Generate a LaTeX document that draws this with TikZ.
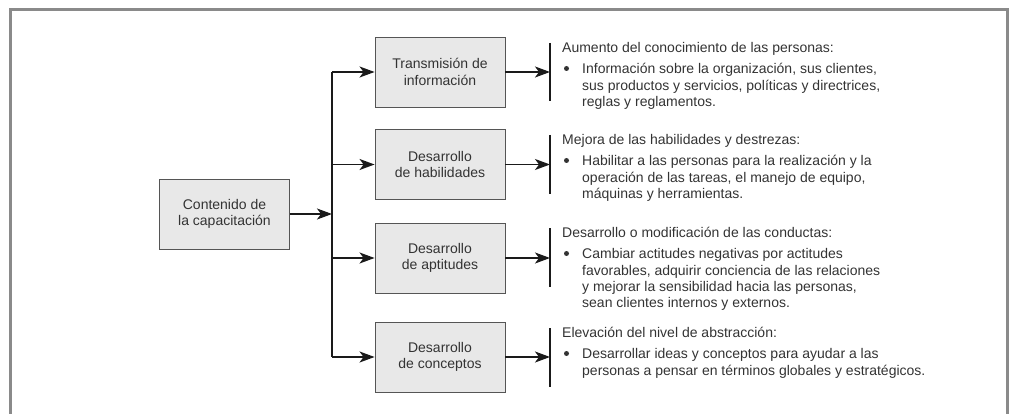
\documentclass[tikz,border=0pt]{standalone}
\usepackage{fontspec}
\setmainfont{Liberation Sans}
\usetikzlibrary{arrows.meta}
\definecolor{txt}{HTML}{333333}
\definecolor{ink}{HTML}{1A1A1A}
\definecolor{boxfill}{HTML}{E8E8E8}
\definecolor{boxline}{HTML}{555555}
\definecolor{framegray}{HTML}{8A8A8A}
\begin{document}
\begin{tikzpicture}[x=1pt,y=-1pt,
  box/.style={draw=boxline, fill=boxfill, line width=0.9pt, minimum width=130pt, minimum height=70pt, inner sep=0pt, align=center, text=txt, font=\fontsize{14}{16.3}\selectfont},
  conn/.style={draw=ink, line width=1.5pt, -{Stealth[length=15pt,width=11pt,inset=4pt]}},
  trunkline/.style={draw=ink, line width=1.6pt},
  brk/.style={draw=ink, line width=2pt},
  txtblock/.style={anchor=north west, inner sep=0pt, align=left, text=txt, font=\fontsize{14}{16.3}\selectfont},
  dot/.style={circle, fill=txt, inner sep=0pt, minimum size=5pt},
  framestyle/.style={draw=framegray, line width=3pt}
]
\useasboundingbox (0,0) rectangle (1009,414);
\draw[framestyle] (10.5,416) -- (10.5,10) -- (1007.5,10) -- (1007.5,416);

% boxes
\node[box] (c)  at (224.5,214) {Contenido de\\la capacitación};
\node[box] (b1) at (440,72)    {Transmisión de\\información};
\node[box] (b2) at (440,164.5) {Desarrollo\\de habilidades};
\node[box] (b3) at (440,258)   {Desarrollo\\de aptitudes};
\node[box] (b4) at (440,357)   {Desarrollo\\de conceptos};

% trunk
\coordinate (t1) at (332,72);
\coordinate (t2) at (332,164.5);
\coordinate (t3) at (332,258);
\coordinate (t4) at (332,357);
\coordinate (j)  at (332,214);
\draw[trunkline] (t1) -- (t4);
\draw[conn] (c) -- (j);
\draw[conn] (t1) -- (b1);
\draw[conn] (t2) -- (b2);
\draw[conn] (t3) -- (b3);
\draw[conn] (t4) -- (b4);

% brackets
\coordinate (k1t) at (550,43);  \coordinate (k1b) at (550,101);
\coordinate (k2t) at (550,135); \coordinate (k2b) at (550,194);
\coordinate (k3t) at (550,228); \coordinate (k3b) at (550,287);
\coordinate (k4t) at (550,328); \coordinate (k4b) at (550,387);
\draw[brk] (k1t) -- (k1b);
\draw[brk] (k2t) -- (k2b);
\draw[brk] (k3t) -- (k3b);
\draw[brk] (k4t) -- (k4b);
\draw[conn] (b1) -- (b1 -| k1t);
\draw[conn] (b2) -- (b2 -| k2t);
\draw[conn] (b3) -- (b3 -| k3t);
\draw[conn] (b4) -- (b4 -| k4t);

% text blocks
\node[txtblock] (h1) at (562,40.6) {\strut Aumento del conocimiento de las personas:};
\node[dot] (d1) at (566.5,68.5) {};
\node[txtblock] (p1) at (582,62.1) {\strut Información sobre la organización, sus clientes,\\sus productos y servicios, políticas y directrices,\\reglas y reglamentos.};

\node[txtblock] (h2) at (562,132.6) {\strut Mejora de las habilidades y destrezas:};
\node[dot] (d2) at (566.5,160.5) {};
\node[txtblock] (p2) at (582,154.1) {\strut Habilitar a las personas para la realización y la\\operación de las tareas, el manejo de equipo,\\máquinas y herramientas.};

\node[txtblock] (h3) at (562,225.6) {\strut Desarrollo o modificación de las conductas:};
\node[dot] (d3) at (566.5,253.5) {};
\node[txtblock] (p3) at (582,247.1) {\strut Cambiar actitudes negativas por actitudes\\favorables, adquirir conciencia de las relaciones\\y mejorar la sensibilidad hacia las personas,\\sean clientes internos y externos.};

\node[txtblock] (h4) at (562,325.6) {\strut Elevación del nivel de abstracción:};
\node[dot] (d4) at (566.5,353.5) {};
\node[txtblock] (p4) at (582,347.1) {\strut Desarrollar ideas y conceptos para ayudar a las\\personas a pensar en términos globales y estratégicos.};
\end{tikzpicture}
\end{document}
